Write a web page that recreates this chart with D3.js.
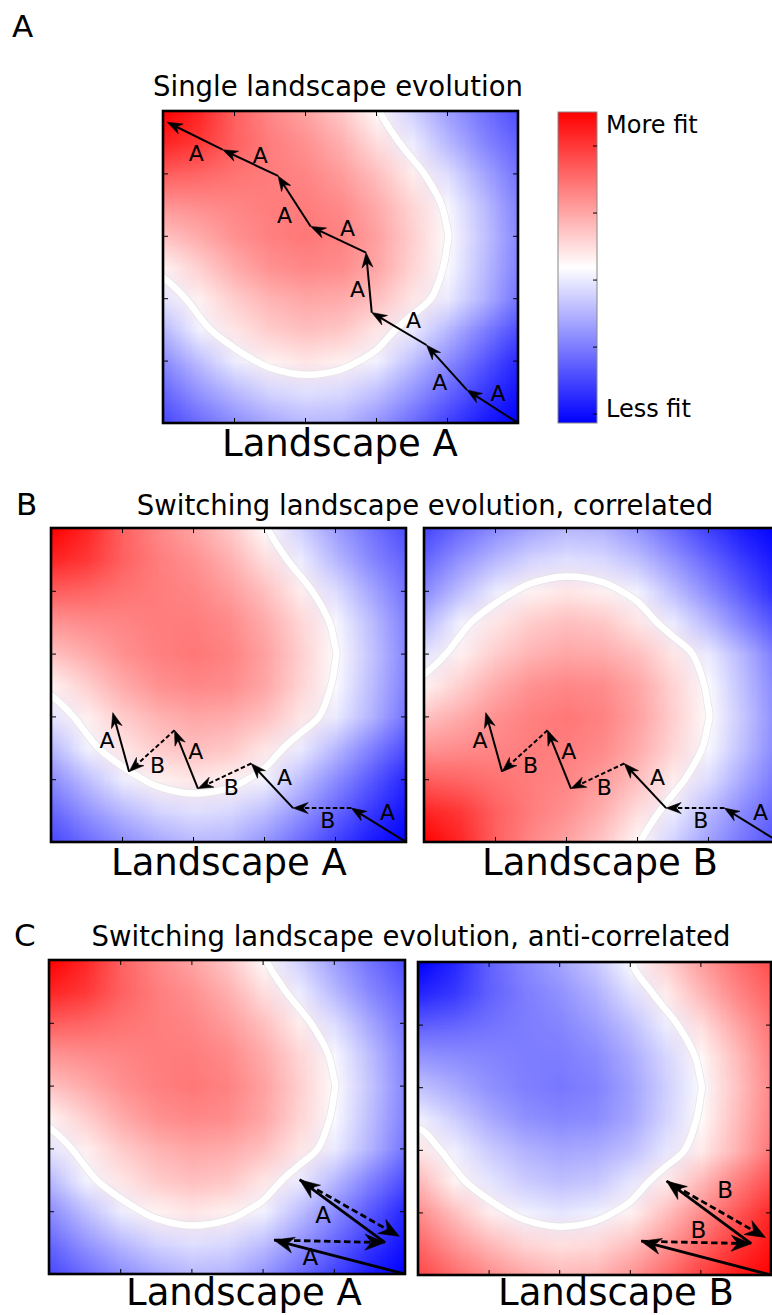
<!DOCTYPE html>
<html><head><meta charset="utf-8">
<script src="https://cdn.jsdelivr.net/npm/d3@7"></script>
<style>
body{margin:0;background:#fff}
svg{display:block}
text{font-family:"DejaVu Sans",sans-serif;fill:#000}
</style>
</head><body>
<svg id="fig" width="772" height="1315"></svg>
<script>
// ---------- DATA ----------
// Fitness of landscape A: rows top -> bottom, columns left -> right
const fitnessA = [
 [ 1.00, 0.85, 0.62, 0.47, 0.36, 0.22, 0.02,-0.18,-0.38,-0.55,-0.70],
 [ 0.86, 0.78, 0.62, 0.51, 0.43, 0.31, 0.13,-0.07,-0.28,-0.47,-0.62],
 [ 0.63, 0.60, 0.55, 0.51, 0.48, 0.39, 0.25, 0.07,-0.13,-0.35,-0.55],
 [ 0.42, 0.45, 0.48, 0.51, 0.51, 0.46, 0.33, 0.16,-0.03,-0.26,-0.50],
 [ 0.24, 0.33, 0.43, 0.50, 0.53, 0.49, 0.37, 0.19, 0.01,-0.23,-0.48],
 [ 0.05, 0.19, 0.33, 0.43, 0.47, 0.45, 0.35, 0.17,-0.02,-0.26,-0.50],
 [-0.10, 0.06, 0.20, 0.30, 0.35, 0.33, 0.25, 0.10,-0.08,-0.30,-0.55],
 [-0.28,-0.05, 0.10, 0.20, 0.25, 0.22, 0.10,-0.08,-0.28,-0.50,-0.70],
 [-0.45,-0.25,-0.07, 0.05, 0.10, 0.06,-0.05,-0.25,-0.45,-0.65,-0.85],
 [-0.60,-0.42,-0.28,-0.17,-0.12,-0.15,-0.25,-0.42,-0.60,-0.78,-0.93],
 [-0.72,-0.58,-0.45,-0.35,-0.28,-0.30,-0.42,-0.58,-0.75,-0.90,-1.00]
];
// correlated landscape B = A mirrored top/bottom; anti-correlated B = -A
const fitnessBcorr = fitnessA.slice().reverse();
const fitnessBanti = fitnessA.map(r => r.map(v => -v));

const xTicks = [1, 2, 3, 4];
const yTicks = [1, 2, 3, 4];
const cbTicks = [-1, -0.5, 0, 0.5, 1];
const cbLabels = ["More fit", "Less fit"];

// Panel A: single landscape walk (data units 0..5)
const singlePath  = [[5,0],[4.28,0.53],[3.71,1.25],[2.94,1.77],[2.86,2.73],[2.08,3.15],[1.62,3.96],[0.84,4.38],[0.06,4.82]];
const singleSteps = ["A","A","A","A","A","A","A","A"];
const singleLabelPos = [[4.72,0.48],[3.90,0.66],[3.53,1.65],[2.74,2.15],[2.60,3.12],[1.71,3.33],[1.37,4.29],[0.47,4.32]];

// Panel B: switching, correlated
const corrPath  = [[5,0],[4.23,0.54],[3.41,0.54],[2.82,1.25],[2.07,0.85],[1.74,1.78],[1.10,1.12],[0.87,2.06]];
const corrSteps = ["A","B","A","B","A","B","A"];
const corrLabelPos = [[4.74,0.48],[3.90,0.35],[3.29,1.04],[2.54,0.88],[2.04,1.44],[1.50,1.23],[0.79,1.62]];

// Panel C: switching, anti-correlated
const antiPath  = [[5,0],[3.16,0.54],[4.72,0.50],[3.52,1.50],[4.92,0.60]];
const antiSteps = ["A","B","A","B"];
const antiLabelPosA = [[3.67,0.27],[3.85,0.94]];
const antiLabelPosB = [[3.97,0.72],[4.35,1.36]];

const panelLetters = ["A","B","C"];
const rowTitles = ["Single landscape evolution","Switching landscape evolution, correlated","Switching landscape evolution, anti-correlated"];

// ---------- DRAWING ----------
const svg = d3.select("#fig");
const defs = svg.append("defs");
const color = d3.scaleLinear().domain([-1,0,1]).range(["#0000ff","#ffffff","#ff0000"]).clamp(true);

function heatImage(rows){
  const n = rows[0].length, m = rows.length;
  const cv = document.createElement("canvas");
  cv.width = n; cv.height = m;
  const ctx = cv.getContext("2d");
  const img = ctx.createImageData(n, m);
  rows.forEach((row, j) => row.forEach((v, i) => {
    const c = d3.rgb(color(v)), k = (j*n + i)*4;
    img.data[k] = c.r; img.data[k+1] = c.g; img.data[k+2] = c.b; img.data[k+3] = 255;
  }));
  ctx.putImageData(img, 0, 0);
  return cv.toDataURL();
}

function drawWalk(g, xs, ys, path, steps, opt){
  for (let i = 0; i < steps.length; i++){
    const [ax, ay] = path[i], [bx, by] = path[i+1];
    const x1 = xs(ax), y1 = ys(ay), x2 = xs(bx), y2 = ys(by);
    const a = Math.atan2(y2-y1, x2-x1), c = Math.cos(a), s = Math.sin(a);
    const P = (u, v) => [x2 - u*c - v*s, y2 - u*s + v*c];
    const L = opt.headLen, Wd = opt.headW;
    const e = P(0.6*L, 0);
    g.append("line").attr("x1", x1).attr("y1", y1).attr("x2", e[0]).attr("y2", e[1])
      .attr("stroke", "#000").attr("stroke-width", opt.lw)
      .attr("stroke-dasharray", steps[i] === opt.dashed ? opt.dash : null);
    const pts = [[x2,y2], P(L, Wd), P(0.68*L, 0), P(L, -Wd)];
    g.append("path").attr("d", "M" + pts.map(p => p.join(",")).join("L") + "Z").attr("fill", "#000")
      .attr("stroke","#000").attr("stroke-width",0.6).attr("stroke-linejoin","miter");
  }
}

function panel(cfg){
  const {x0, x1, y0, y1, rows, id} = cfg;
  const xs = d3.scaleLinear().domain([0,5]).range([x0,x1]);
  const ys = d3.scaleLinear().domain([0,5]).range([y1,y0]);
  defs.append("clipPath").attr("id", "clip"+id).append("rect")
    .attr("x", x0).attr("y", y0).attr("width", x1-x0).attr("height", y1-y0);
  const g = svg.append("g").attr("clip-path", `url(#clip${id})`);
  const n = rows[0].length, m = rows.length;
  const sx = 5/(n-1), sy = 5/(m-1);
  g.append("image").attr("href", heatImage(rows))
    .attr("x", xs(-sx/2)).attr("y", ys(5+sy/2))
    .attr("width", xs(5+sx/2)-xs(-sx/2)).attr("height", ys(-sy/2)-ys(5+sy/2))
    .attr("preserveAspectRatio", "none").style("image-rendering", "auto");
  // white band along the zero-fitness contour
  const cont = d3.contours().size([n, m]).thresholds([0])(rows.flat());
  const line = d3.line().curve(d3.curveCatmullRomClosed.alpha(0.5));
  let dStr = "";
  cont[0].coordinates.forEach(poly => poly.forEach(ring => {
    const pts = ring.slice(0, -1).map(([px, py]) => [xs((px-0.5)*sx), ys(5-(py-0.5)*sy)]);
    dStr += line(pts);
  }));
  g.append("path").attr("d", dStr).attr("fill","none").attr("stroke","#e4e4e4").attr("stroke-width",8);
  g.append("path").attr("d", dStr).attr("fill","none").attr("stroke","#ffffff").attr("stroke-width",6.5);
  // walk
  drawWalk(g, xs, ys, cfg.path, cfg.steps, cfg.opt);
  // ticks (inward, all sides)
  const tk = 5;
  const axes = [
    [d3.axisBottom(xs).tickValues(xTicks), `translate(0,${y1})`],
    [d3.axisTop(xs).tickValues(xTicks), `translate(0,${y0})`],
    [d3.axisLeft(ys).tickValues(yTicks), `translate(${x0},0)`],
    [d3.axisRight(ys).tickValues(yTicks), `translate(${x1},0)`]
  ];
  axes.forEach(([ax, tr]) => {
    const a = svg.append("g").attr("transform", tr).call(ax.tickSize(-tk).tickFormat(""));
    a.select(".domain").remove();
    a.selectAll("line").attr("stroke", "#000").attr("stroke-width", 1);
  });
  svg.append("rect").attr("x", x0).attr("y", y0).attr("width", x1-x0).attr("height", y1-y0)
    .attr("fill","none").attr("stroke","#000").attr("stroke-width",2.6);
  // step labels
  (cfg.labels || []).forEach(([pos, txt]) => {
    svg.append("text").attr("x", xs(pos[0])).attr("y", ys(pos[1])).attr("dy","0.36em")
      .attr("text-anchor","middle").attr("font-size", cfg.opt.fs).text(txt);
  });
  return {xs, ys};
}

const optAB = {lw: 2, headLen: 15, headW: 5.5, dashed: "B", dash: "4.5,2.5", fs: 22};
const optC  = {lw: 2.8, headLen: 20, headW: 8, dashed: "B", dash: "6.5,3.5", fs: 23};

// Row A
panel({id:"A", x0:163, x1:518, y0:111, y1:423, rows: fitnessA, path: singlePath, steps: singleSteps, opt: optAB,
  labels: singleLabelPos.map((p,i) => [p, singleSteps[i]])});
// Row B
panel({id:"BL", x0:51, x1:406, y0:528, y1:842, rows: fitnessA, path: corrPath, steps: corrSteps, opt: optAB,
  labels: corrLabelPos.map((p,i) => [p, corrSteps[i]])});
panel({id:"BR", x0:424, x1:779, y0:528, y1:842, rows: fitnessBcorr, path: corrPath, steps: corrSteps, opt: optAB,
  labels: corrLabelPos.map((p,i) => [p, corrSteps[i]])});
// Row C
panel({id:"CL", x0:49, x1:405, y0:960, y1:1274, rows: fitnessA, path: antiPath, steps: antiSteps, opt: optC,
  labels: antiLabelPosA.map(p => [p, "A"])});
panel({id:"CR", x0:418, x1:771, y0:962, y1:1275, rows: fitnessBanti, path: antiPath, steps: antiSteps, opt: optC,
  labels: antiLabelPosB.map(p => [p, "B"])});

// Colorbar
const cb = {x0:558, x1:597, y0:112, y1:423};
const grad = defs.append("linearGradient").attr("id","cbgrad").attr("x1",0).attr("x2",0).attr("y1",0).attr("y2",1);
d3.range(0, 1.0001, 0.05).forEach(t => grad.append("stop").attr("offset", t).attr("stop-color", color(1 - 2*t)));
svg.append("rect").attr("x", cb.x0).attr("y", cb.y0).attr("width", cb.x1-cb.x0).attr("height", cb.y1-cb.y0)
  .attr("fill","url(#cbgrad)").attr("stroke","#888").attr("stroke-width",1);
const cbScale = d3.scaleLinear().domain([-1.07, 1.25]).range([cb.y1, cb.y0]);
const cbAxis = svg.append("g").attr("transform", `translate(${cb.x1},0)`)
  .call(d3.axisRight(cbScale).tickValues(cbTicks).tickSize(-4).tickFormat(""));
cbAxis.select(".domain").remove();
cbAxis.selectAll("line").attr("stroke","#000").attr("stroke-width",1);
svg.append("text").attr("x", 606).attr("y", 133).attr("font-size", 24).text(cbLabels[0]);
svg.append("text").attr("x", 606).attr("y", 417).attr("font-size", 24).text(cbLabels[1]);

// Titles & letters
const letterPos = [[12,37],[16,515],[14,946]];
panelLetters.forEach((l,i) => svg.append("text").attr("x", letterPos[i][0]).attr("y", letterPos[i][1]).attr("font-size", 31).text(l));
const titlePos = [[338,96],[425,515],[411,946]];
rowTitles.forEach((t,i) => svg.append("text").attr("x", titlePos[i][0]).attr("y", titlePos[i][1])
  .attr("text-anchor","middle").attr("font-size", 27.5).text(t));
const landLabels = [["Landscape A",340,456],["Landscape A",229,875],["Landscape B",600,875],["Landscape A",244,1305],["Landscape B",616,1305]];
landLabels.forEach(([t,x,y]) => svg.append("text").attr("x", x).attr("y", y).attr("text-anchor","middle").attr("font-size", 37).text(t));
</script>
</body></html>
